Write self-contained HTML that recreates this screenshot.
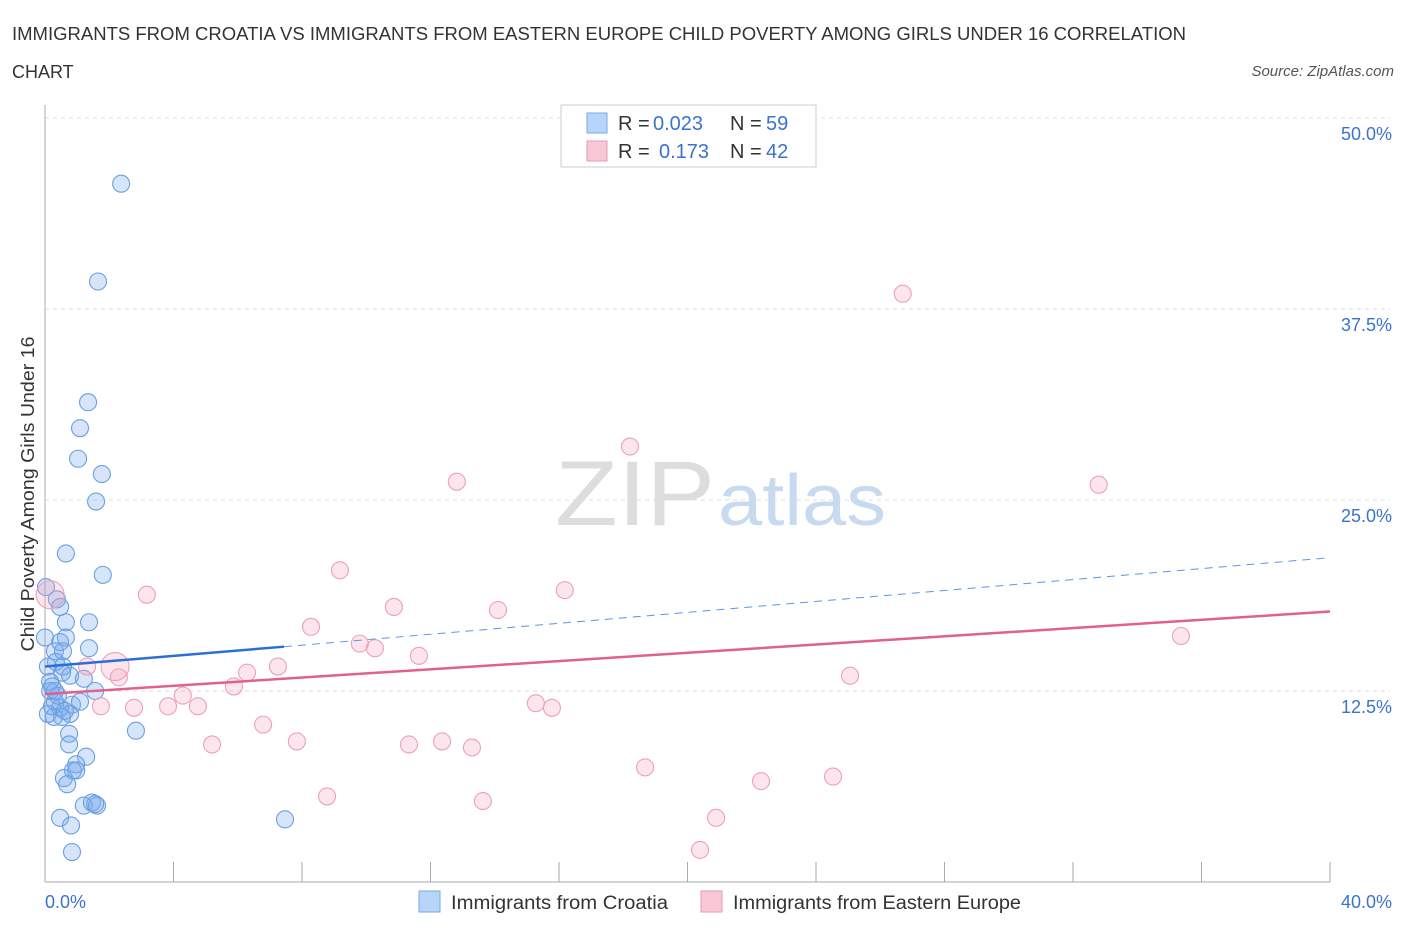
<!DOCTYPE html>
<html><head><meta charset="utf-8"><style>
body{margin:0;background:#fff;font-family:"Liberation Sans",sans-serif}
svg text{font-family:"Liberation Sans",sans-serif}
</style></head><body>
<svg id="c" width="1406" height="930" xmlns="http://www.w3.org/2000/svg">
<text x="12" y="40" font-size="18" fill="#333" textLength="1174" lengthAdjust="spacingAndGlyphs">IMMIGRANTS FROM CROATIA VS IMMIGRANTS FROM EASTERN EUROPE CHILD POVERTY AMONG GIRLS UNDER 16 CORRELATION</text>
<text x="12" y="78" font-size="18" fill="#333">CHART</text>
<text x="1394" y="76" font-size="15" fill="#555" font-style="italic" text-anchor="end">Source: ZipAtlas.com</text>
<text x="555" y="525" font-size="92" fill="#ddd" font-family="Liberation Serif" textLength="160" lengthAdjust="spacingAndGlyphs">ZIP</text>
<text x="718" y="525" font-size="72" fill="#c8daf0" textLength="168" lengthAdjust="spacingAndGlyphs">atlas</text>
<g id="grid"></g><g id="marks"></g>
<text transform="translate(34,494) rotate(-90)" font-size="18" fill="#333" text-anchor="middle" textLength="315" lengthAdjust="spacingAndGlyphs">Child Poverty Among Girls Under 16</text>
<g>
<rect x="561" y="105" width="255" height="62" fill="#fff" stroke="#ccc"/>
<rect x="587" y="113" width="20" height="20" fill="#b8d4f8" stroke="#7aaae8"/>
<text x="618" y="130" font-size="20" fill="#333">R =</text>
<text x="653" y="130" font-size="20" fill="#3a72d0">0.023</text>
<text x="730" y="130" font-size="20" fill="#333">N =</text>
<text x="766" y="130" font-size="20" fill="#3a72d0">59</text>
<rect x="587" y="141" width="20" height="20" fill="#f8c8d6" stroke="#e89ab2"/>
<text x="618" y="158" font-size="20" fill="#333">R =</text>
<text x="659" y="158" font-size="20" fill="#3a72d0">0.173</text>
<text x="730" y="158" font-size="20" fill="#333">N =</text>
<text x="766" y="158" font-size="20" fill="#3a72d0">42</text>
</g>
<g>
<rect x="419" y="891" width="21" height="21" fill="#b8d4f8" stroke="#7aaae8"/>
<text x="451" y="909" font-size="19" fill="#333" textLength="217" lengthAdjust="spacingAndGlyphs">Immigrants from Croatia</text>
<rect x="701" y="891" width="21" height="21" fill="#f8c8d6" stroke="#e89ab2"/>
<text x="733" y="909" font-size="19" fill="#333" textLength="288" lengthAdjust="spacingAndGlyphs">Immigrants from Eastern Europe</text>
</g>
</svg>
<script>
const yTicks=[12.5,25,37.5,50];
const yTickLabels=["12.5%","25.0%","37.5%","50.0%"];
const xTickLabels=["0.0%","40.0%"];
const blueX=[2.37,1.65,1.34,1.09,1.03,1.77,1.59,0.65,1.8,0.03,0.37,0.47,1.37,0.65,0.65,0,1.37,0.31,0.56,0.34,0.56,0.53,1.21,0.16,0.22,1.56,0.31,0.84,0.47,0.09,0.53,0.28,0.78,0.75,0.75,1.28,0.97,0.87,0.97,0.59,0.69,1.21,1.46,1.62,1.56,0.47,0.81,0.84,2.83,7.47,0.16,0.22,0.40,0.09,0.47,0.78,0.31,0.62,1.09];
const blueY=[45.7,39.3,31.4,29.7,27.7,26.7,24.9,21.5,20.1,19.3,18.5,18.0,17.0,17.0,16.0,16.0,15.3,15.1,15.1,14.4,14.1,13.7,13.3,13.1,12.8,12.5,11.8,11.6,11.4,11.0,10.8,10.8,11.0,9.7,9.0,8.2,7.7,7.3,7.3,6.8,6.4,5.0,5.2,5.0,5.1,4.2,3.7,1.96,9.9,4.1,12.5,11.5,12.2,14.1,15.7,13.5,12.5,11.2,11.8];
const pinkX=[26.7,18.21,12.82,32.8,9.18,16.18,3.17,10.86,14.1,8.28,35.36,9.8,10.27,11.64,7.25,6.29,2.3,25.06,1.31,5.88,4.29,3.83,4.76,1.74,2.77,15.28,15.78,6.79,5.2,7.84,11.33,12.36,13.29,18.68,22.29,24.53,8.78,13.63,20.89,20.39,0.16,2.18];
const pinkY=[38.5,28.5,26.2,26.0,20.4,19.1,18.8,18.0,17.8,16.7,16.1,15.6,15.3,14.8,14.1,13.7,13.4,13.5,14.1,12.8,12.2,11.5,11.5,11.5,11.4,11.7,11.4,10.3,9.0,9.2,9.0,9.2,8.8,7.5,6.6,6.9,5.6,5.3,4.2,2.1,18.8,14.1];
const blueTrend=[[0,14.1],[7.44,15.4]];
const blueDash=[[7.44,15.4],[39.85,21.2]];
const pinkTrend=[[0,12.3],[40,17.7]];
const NS="http://www.w3.org/2000/svg";
const X0=45,X1=1330,Y0=882,Y50=118;
const sx=v=>X0+v/40*(X1-X0), sy=v=>Y0-v/50*(Y0-Y50);
function mk(t,a,p){const e=document.createElementNS(NS,t);for(const k in a)e.setAttribute(k,a[k]);p.appendChild(e);return e;}
const g=document.getElementById('grid'),m=document.getElementById('marks');
yTicks.forEach((v,i)=>{
 const l=mk('line',{x1:X0,x2:1390,y1:sy(v),y2:sy(v),stroke:'#ddd','stroke-dasharray':'4,4'},g);
 
 
 const t=mk('text',{x:1392,y:sy(v)+22,'font-size':18,fill:'#3a72d0','text-anchor':'end'},g);
 t.textContent=yTickLabels[i];
 
 
});
const ax=mk('line',{x1:X0,x2:X0,y1:105,y2:Y0,stroke:'#aaa'},g);


const bx=mk('line',{x1:X0,x2:X1,y1:Y0,y2:Y0,stroke:'#aaa'},g);


for(let i=0;i<=10;i++){const t=mk('line',{x1:sx(i*4),x2:sx(i*4),y1:862,y2:Y0,stroke:'#aaa'},g);
 
 }
[0,1].forEach(i=>{const t=mk('text',{x:i?1392:45,y:908,'font-size':18,fill:'#3a72d0','text-anchor':i?'end':'start'},g);t.textContent=xTickLabels[i];
 
 });
blueX.forEach((v,i)=>{const c=mk('circle',{cx:sx(v),cy:sy(blueY[i]),r:8.5,fill:'rgba(120,170,235,0.3)',stroke:'#6aa0e2','stroke-width':1.1},m);
 
 });
pinkX.forEach((v,i)=>{const big=i>=40;const c=mk('circle',{cx:sx(v),cy:sy(pinkY[i]),r:big?14:8.5,fill:'rgba(245,160,188,0.28)',stroke:'#eda0ba','stroke-width':1.1},m);
 
 });
const l1=mk('line',{x1:sx(blueTrend[0][0]),y1:sy(blueTrend[0][1]),x2:sx(blueTrend[1][0]),y2:sy(blueTrend[1][1]),stroke:'#2a6fd6','stroke-width':2.5},m);


const l2=mk('line',{x1:sx(blueDash[0][0]),y1:sy(blueDash[0][1]),x2:sx(blueDash[1][0]),y2:sy(blueDash[1][1]),stroke:'#5b96e0','stroke-width':1,'stroke-dasharray':'8,6'},m);


const l3=mk('line',{x1:sx(pinkTrend[0][0]),y1:sy(pinkTrend[0][1]),x2:sx(pinkTrend[1][0]),y2:sy(pinkTrend[1][1]),stroke:'#e0608e','stroke-width':2.5},m);


</script>
</body></html>
